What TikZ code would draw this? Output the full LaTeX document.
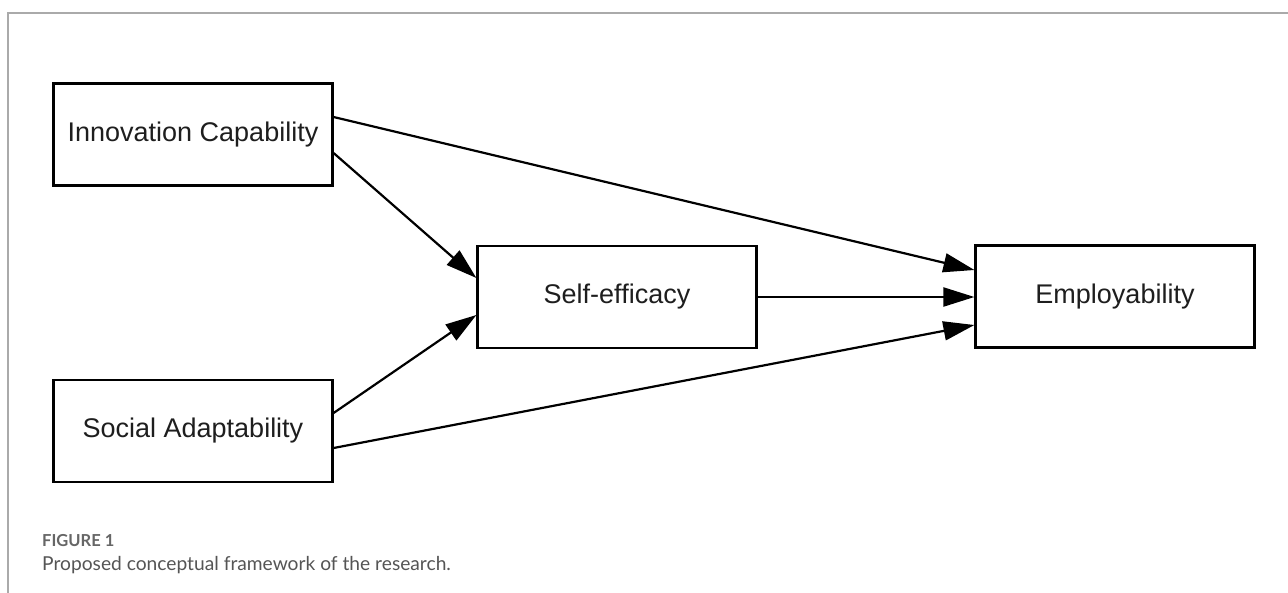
\documentclass[tikz,border=0pt]{standalone}
\usepackage{fontspec}
\setmainfont{Liberation Sans}
\newfontfamily\capfont{Lato}
\usetikzlibrary{arrows.meta}
\definecolor{framegray}{HTML}{AAAAAA}
\definecolor{boxtext}{HTML}{1E1E1E}
\definecolor{capgray}{HTML}{666666}
\definecolor{captext}{HTML}{555555}
\tikzset{
  conbox/.style={draw=black, line width=2.2pt, fill=white, minimum width=279pt, minimum height=102pt, inner sep=0pt,
    font=\fontsize{27}{30}\selectfont, text=boxtext},
  arr/.style={line width=2.2pt, -{Triangle[length=31pt,width=19pt]}},
  frameline/.style={draw=framegray, line width=1.5pt}
}
\begin{document}
\begin{tikzpicture}[x=1pt,y=-1pt]
\useasboundingbox (0,0) rectangle (1288,592);
\fill[white] (0,0) rectangle (1288,592);
\draw[frameline] (8,600) -- (8,13) -- (1296,13);
\node[conbox] (ic) at (193,134.5) {Innovation Capability};
\node[conbox] (sa) at (193,431) {Social Adaptability};
\node[conbox] (se) at (617,297) {Self-efficacy};
\node[conbox] (em) at (1115,296.5) {Employability};
\draw[arr] ([yshift=17.5pt]ic.east) -- ([yshift=26.5pt]em.west);
\draw[arr] ([yshift=-18.5pt]ic.east) -- ([yshift=19pt]se.west);
\draw[arr] ([yshift=18pt]sa.east) -- ([yshift=-18pt]se.west);
\draw[arr] ([yshift=-17pt]sa.east) -- ([yshift=-28.5pt]em.west);
\draw[arr] (se.east) -- (em.west |- se.east);
\node[anchor=base west, inner sep=0pt, text=capgray, font=\capfont\bfseries\fontsize{16.5}{18}\selectfont] (fig) at (42,546) {FIGURE 1};
\node[anchor=base west, inner sep=0pt, text=captext, font=\capfont\fontsize{19.2}{22}\selectfont] (cap) at (42,570) {Proposed conceptual framework of the research.};
\end{tikzpicture}
\end{document}
